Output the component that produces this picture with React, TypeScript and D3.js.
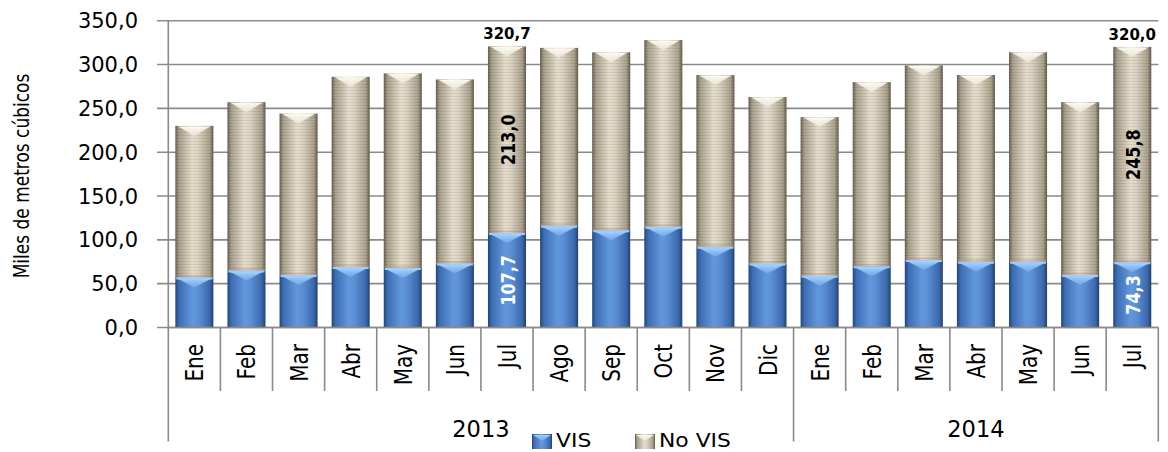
import React from "react";
import * as d3 from "d3";

const months = ["Ene", "Feb", "Mar", "Abr", "May", "Jun", "Jul", "Ago", "Sep", "Oct", "Nov", "Dic", "Ene", "Feb", "Mar", "Abr", "May", "Jun", "Jul"];
const years = ["2013", "2014"];
const monthsPerYear = [12, 7];
const vis = [57, 65, 60, 69, 68, 73, 107.7, 116, 111, 115, 92, 73, 59, 70, 77, 75, 75, 60, 74.3];
const noVis = [173, 192, 184, 217, 222, 210, 213.0, 203, 203, 213, 196, 190, 181, 210, 222, 213, 239, 197, 245.8];
const yTicks = [0, 50, 100, 150, 200, 250, 300, 350];
const labelledIndex = [6, 18];
const labelledTotals = [320.7, 320.0];
const seriesNames = ["VIS", "No VIS"];
const yTitle = "Miles de metros cúbicos";

const W = 1168;
const H = 452;
const plotLeft = 168.3;
const plotRight = 1158.3;
const yBottom = 327.5;
const yTop = 20.7;
const SX = 1.25;
const FONT = "DejaVu Sans";

const fmt = (v: number) => d3.format(".1f")(v).replace(".", ",");

export default function App() {
  const idx = months.map((_, i) => i);
  const x = d3.scaleBand<number>().domain(idx).range([plotLeft, plotRight]).paddingInner(0.27).paddingOuter(0.135);
  const y = d3.scaleLinear().domain([0, 350]).range([yBottom, yTop]);
  const bw = x.bandwidth();
  const step = x.step();

  const yearStarts: number[] = [];
  let acc = 0;
  monthsPerYear.forEach((n) => {
    yearStarts.push(acc);
    acc += n;
  });

  const rot = (cx: number, cy: number) => `translate(${cx},${cy}) scale(${SX},1) rotate(-90)`;

  return (
    <svg width={W} height={H} style={{ position: "absolute", left: 0, top: 0, background: "#fff" }} fontFamily={FONT}>
      <defs>
        <linearGradient id="blueGrad" x1="0" x2="1" y1="0" y2="0">
          <stop offset="0" stopColor="#22457a" />
          <stop offset="0.1" stopColor="#3d6db3" />
          <stop offset="0.45" stopColor="#6197dc" />
          <stop offset="0.6" stopColor="#5b90d6" />
          <stop offset="0.9" stopColor="#3b68ad" />
          <stop offset="1" stopColor="#1f3f70" />
        </linearGradient>
        <linearGradient id="beigeGrad" x1="0" x2="1" y1="0" y2="0">
          <stop offset="0" stopColor="#5f594b" />
          <stop offset="0.1" stopColor="#a39b86" />
          <stop offset="0.45" stopColor="#e3dccb" />
          <stop offset="0.6" stopColor="#d9d1bf" />
          <stop offset="0.9" stopColor="#a69c87" />
          <stop offset="1" stopColor="#5a5446" />
        </linearGradient>
        <linearGradient id="beigeTop" x1="0" x2="0" y1="0" y2="1">
          <stop offset="0" stopColor="#fffdf6" stopOpacity="0.95" />
          <stop offset="1" stopColor="#f3efe4" stopOpacity="0.6" />
        </linearGradient>
        <linearGradient id="blueTop" x1="0" x2="0" y1="0" y2="1">
          <stop offset="0" stopColor="#a9d3fb" stopOpacity="0.95" />
          <stop offset="1" stopColor="#7fb4ee" stopOpacity="0.6" />
        </linearGradient>
        <pattern id="stripes" width="6" height="3" patternUnits="userSpaceOnUse">
          <rect x="0" y="0" width="6" height="1" fill="#5a5240" opacity="0.1" />
          <rect x="0" y="1.5" width="6" height="0.8" fill="#ffffff" opacity="0.12" />
        </pattern>
      </defs>

      {yTicks.map((t) => (
        <line key={"g" + t} x1={157} x2={plotRight} y1={y(t)} y2={y(t)} stroke="#8a8a8a" strokeWidth={1.6} />
      ))}
      <line x1={plotLeft} x2={plotLeft} y1={yTop} y2={yBottom} stroke="#8a8a8a" strokeWidth={1.6} />

      {yTicks.map((t) => (
        <text key={"yl" + t} x={138} y={y(t)} dy="0.36em" textAnchor="end" fontSize={21} fill="#000">
          {fmt(t)}
        </text>
      ))}

      <text transform={rot(21, 176)} textAnchor="middle" dy="0.36em" fontSize={17} fill="#000">
        {yTitle}
      </text>

      {idx.map((i) => {
        const bx = x(i) as number;
        const visTop = y(vis[i]);
        const totTop = y(vis[i] + noVis[i]);
        return (
          <g key={"b" + i}>
            <rect x={bx} y={visTop} width={bw} height={yBottom - visTop} fill="url(#blueGrad)" />
            <rect x={bx} y={totTop} width={bw} height={visTop - totTop} fill="url(#beigeGrad)" />
            <rect x={bx} y={totTop} width={bw} height={visTop - totTop} fill="url(#stripes)" />
            <polygon
              points={`${bx + 3},${totTop + 0.5} ${bx + bw - 3},${totTop + 0.5} ${bx + bw / 2},${totTop + 10}`}
              fill="url(#beigeTop)"
            />
            <line x1={bx + 1} x2={bx + bw - 1} y1={visTop - 1.5} y2={visTop - 1.5} stroke="#b9885f" strokeOpacity={0.35} strokeWidth={2} />
            <line x1={bx + 1} x2={bx + bw - 1} y1={visTop + 1} y2={visTop + 1} stroke="#a8c8ec" strokeWidth={2} />
            <polygon
              points={`${bx + 3},${visTop + 1.5} ${bx + bw - 3},${visTop + 1.5} ${bx + bw / 2},${visTop + 10}`}
              fill="url(#blueTop)"
            />
          </g>
        );
      })}

      <line x1={plotLeft} x2={plotRight} y1={yBottom} y2={yBottom} stroke="#8a8a8a" strokeWidth={1.6} />
      {d3.range(1, months.length).filter((i) => !yearStarts.includes(i)).map((i) => (
        <line key={"t" + i} x1={plotLeft + i * step} x2={plotLeft + i * step} y1={yBottom} y2={391} stroke="#8a8a8a" strokeWidth={1.6} />
      ))}
      {[...yearStarts, months.length].map((i) => (
        <line key={"yt" + i} x1={plotLeft + i * step} x2={plotLeft + i * step} y1={yBottom} y2={441.5} stroke="#8a8a8a" strokeWidth={1.6} />
      ))}

      {idx.map((i) => (
        <text key={"m" + i} transform={rot((x(i) as number) + bw / 2, 344)} textAnchor="end" dy="0.36em" fontSize={20} fill="#000">
          {months[i]}
        </text>
      ))}

      {years.map((yr, k) => {
        const s = yearStarts[k];
        const e = s + monthsPerYear[k];
        const cx = plotLeft + ((s + e) / 2) * step;
        return (
          <text key={"y" + yr} x={cx} y={436.5} textAnchor="middle" fontSize={22.5} fill="#000">
            {yr}
          </text>
        );
      })}

      {labelledIndex.map((i, k) => {
        const cx = (x(i) as number) + bw / 2;
        return (
          <g key={"dl" + i}>
            <text x={cx} y={y(labelledTotals[k]) - 7} textAnchor="middle" fontSize={15} fontWeight="bold" fill="#000">
              {fmt(labelledTotals[k])}
            </text>
            <text transform={rot(cx + 1, y(vis[i] + noVis[i] / 2))} textAnchor="middle" dy="0.36em" fontSize={16} fontWeight="bold" fill="#000">
              {fmt(noVis[i])}
            </text>
            <text transform={rot(cx + 1, y(vis[i] / 2))} textAnchor="middle" dy="0.36em" fontSize={16} fontWeight="bold" fill="#fff">
              {fmt(vis[i])}
            </text>
          </g>
        );
      })}

      <rect x={532} y={434} width={20} height={15} fill="url(#blueGrad)" />
      <polygon points="533,435 551,435 542,441" fill="url(#blueTop)" />
      <text transform="translate(556,447) scale(1.15,1)" fontSize={19} fill="#000">
        {seriesNames[0]}
      </text>
      <rect x={635} y={434} width={20} height={15} fill="url(#beigeGrad)" />
      <polygon points="636,435 654,435 645,441" fill="url(#beigeTop)" />
      <text transform="translate(659,447) scale(1.15,1)" fontSize={19} fill="#000">
        {seriesNames[1]}
      </text>
    </svg>
  );
}
